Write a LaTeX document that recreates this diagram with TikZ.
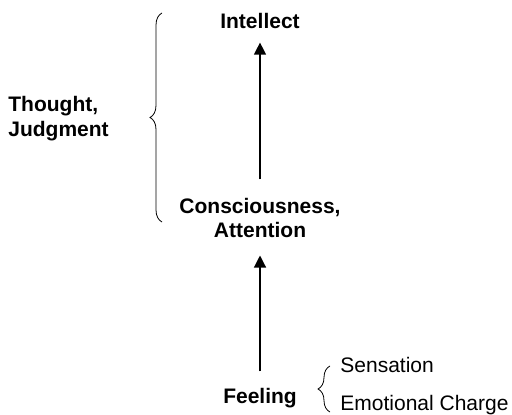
\documentclass[tikz,border=0pt]{standalone}
\usepackage{fontspec}
\setmainfont{Liberation Sans}
\usetikzlibrary{arrows.meta,decorations.pathreplacing}

\begin{document}
\begin{tikzpicture}[x=0.5pt,y=-0.5pt,
  every node/.style={inner sep=0pt,font=\fontsize{10.5}{12.4}\selectfont},
  stage/.style={font=\fontsize{10.5}{12.4}\selectfont\bfseries,align=center},
  flow/.style={line width=.6pt,-{Triangle[length=6pt,width=6pt]}},
  curly/.style={line width=.4pt,decorate,decoration={brace,amplitude=6pt}}]
\useasboundingbox (0,0) rectangle (512,415);
% levels
\node[stage,anchor=base] (intel) at (260,29) {Intellect};
\node[stage,anchor=north] (cons) at (260,197.5) {Consciousness,\\Attention};
\node[stage,anchor=base] (feel) at (260,403) {Feeling};
\node[stage,align=left,anchor=north west] (thought) at (8,96) {Thought,\\Judgment};
\node[anchor=base west] (sens) at (340,372) {Sensation};
\node[anchor=base west] (emo) at (340,410) {Emotional Charge};
% arrows
\draw[flow,shorten <=9pt,shorten >=6.5pt] (cons.north) -- (intel.south);
\draw[flow,shorten <=8pt,shorten >=8.5pt] (feel.north) -- (cons.south);
% braces
\coordinate (b1) at (162,222);
\coordinate (b2) at (162,13);
\coordinate (b3) at (330,412);
\coordinate (b4) at (330,366);
\draw[curly] (b1) -- (b2);
\draw[curly] (b3) -- (b4);
\end{tikzpicture}
\end{document}
